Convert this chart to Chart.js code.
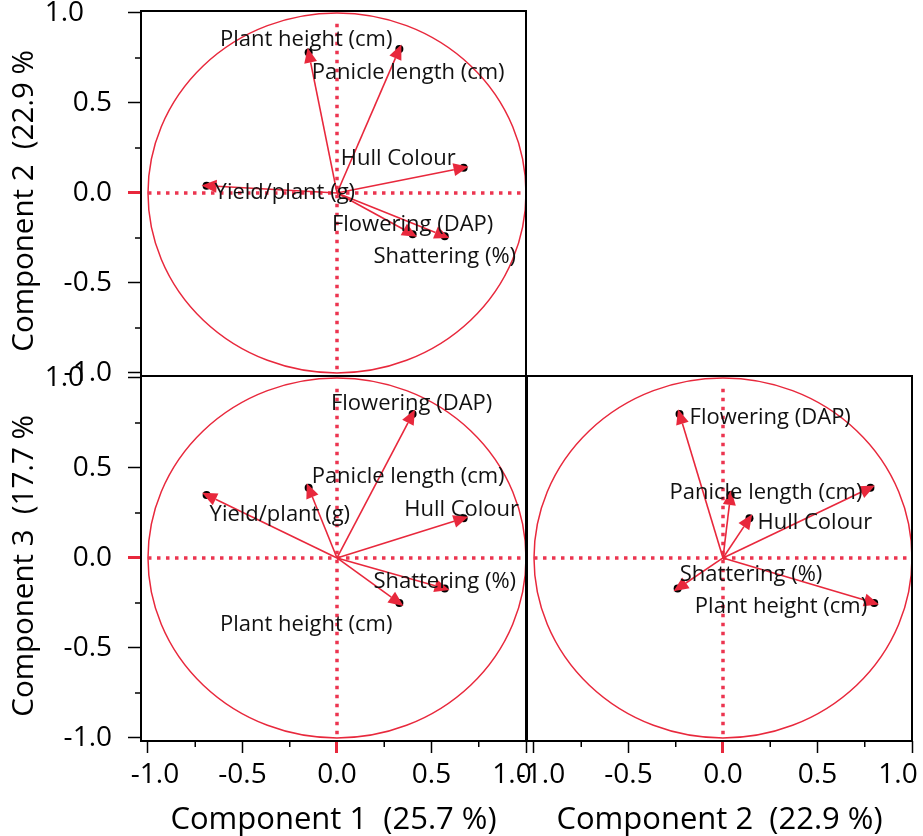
<!DOCTYPE html>
<html>
<head>
<meta charset="utf-8">
<script src="https://cdn.jsdelivr.net/npm/chart.js@4.4.1/dist/chart.umd.min.js"></script>
<style>
  body { margin: 0; background: #fff; }
  #wrap { position: relative; width: 923px; height: 836px; overflow: hidden; }
  canvas { position: absolute; }
</style>
</head>
<body>
<div id="wrap">
  <canvas id="c12"></canvas>
  <canvas id="c13"></canvas>
  <canvas id="c23"></canvas>
</div>
<script>
// Loadings
const variables = ["Plant height (cm)", "Panicle length (cm)", "Hull Colour", "Yield/plant (g)", "Flowering (DAP)", "Shattering (%)"];
const comp1 = [0.33, -0.15, 0.67, -0.69, 0.40, 0.57];
const comp2 = [0.80, 0.78, 0.14, 0.04, -0.23, -0.24];
const comp3 = [-0.25, 0.39, 0.22, 0.35, 0.80, -0.17];

const titleC1 = "Component 1  (25.7 %)";
const titleC2x = "Component 2  (22.9 %)";
const titleC2y = "Component 2  (22.9 %";
const titleC3y = "Component 3  (17.7 %";

const tickValues = [-1, -0.75, -0.5, -0.25, 0, 0.25, 0.5, 0.75, 1];

// label placement: [align, dx, dy] per variable, null = no label
const placeC1C2 = [
  ["right", -7, -9],
  ["left", 3, 20],
  ["right", -8, -9],
  ["left", 8, 7],
  ["center", 0, -10],
  ["center", 0, 21],
];
const placeC1C3 = [
  ["right", -7, 22],
  ["left", 3, -11],
  ["center", -2, -9],
  ["left", 3, 20],
  ["center", -1, -10],
  ["center", 0, -7],
];
const placeC2C3 = [
  ["right", -7, 4],
  ["right", -8, 5],
  ["left", 8, 4],
  null,
  ["left", 10, 4],
  ["left", 2, -14],
];

const RED = "#e8283c";
const DOT_RED = "#ec3550";
const FONT = "'Open Sans'";

const isMajor = (v) => Math.abs(v * 2 - Math.round(v * 2)) < 1e-9;

function tickLabel(v, first, last) {
  if (!isMajor(v)) return "";
  const s = v.toFixed(1);
  if (v === -1 && first) return "\u2002" + s;
  if (v === 1 && last) return s + "\u2003";
  return s;
}

const panelPlugin = {
  id: "panel",
  beforeDatasetsDraw(chart) {
    const { ctx } = chart;
    const x = chart.scales.x;
    const y = chart.scales.y;
    const cx = x.getPixelForValue(0);
    const cy = y.getPixelForValue(0);
    // unit circle
    ctx.save();
    ctx.strokeStyle = RED;
    ctx.lineWidth = 1.5;
    ctx.beginPath();
    ctx.ellipse(cx, cy, x.getPixelForValue(1) - cx, cy - y.getPixelForValue(1), 0, 0, Math.PI * 2);
    ctx.stroke();
    // dotted zero lines
    ctx.strokeStyle = DOT_RED;
    ctx.lineWidth = 3.5;
    ctx.setLineDash([3.5, 5.5]);
    ctx.beginPath();
    ctx.moveTo(x.getPixelForValue(-1), cy);
    ctx.lineTo(x.getPixelForValue(1), cy);
    ctx.moveTo(cx, y.getPixelForValue(0.94));
    ctx.lineTo(cx, y.getPixelForValue(-1));
    ctx.stroke();
    ctx.restore();
  },
  afterDatasetsDraw(chart, args, opts) {
    const { ctx } = chart;
    const cx = chart.scales.x.getPixelForValue(0);
    const cy = chart.scales.y.getPixelForValue(0);
    const pts = chart.getDatasetMeta(0).data;
    ctx.save();
    pts.forEach((p) => {
      const dx = p.x - cx;
      const dy = p.y - cy;
      const len = Math.hypot(dx, dy);
      const ux = dx / len;
      const uy = dy / len;
      const tipX = p.x + ux * 5;
      const tipY = p.y + uy * 5;
      const bx = tipX - ux * 15;
      const by = tipY - uy * 15;
      ctx.strokeStyle = RED;
      ctx.lineWidth = 1.6;
      ctx.beginPath();
      ctx.moveTo(cx, cy);
      ctx.lineTo(bx, by);
      ctx.stroke();
      ctx.fillStyle = RED;
      ctx.beginPath();
      ctx.moveTo(tipX, tipY);
      ctx.lineTo(bx - uy * 6.5, by + ux * 6.5);
      ctx.lineTo(bx + uy * 6.5, by - ux * 6.5);
      ctx.closePath();
      ctx.fill();
    });
    // variable labels
    ctx.fillStyle = "#111";
    ctx.font = "22px " + FONT;
    ctx.textBaseline = "middle";
    pts.forEach((p, i) => {
      const pl = opts.place[i];
      if (!pl) return;
      ctx.textAlign = pl[0];
      ctx.fillText(variables[i], p.x + pl[1], p.y + pl[2]);
    });
    ctx.restore();
  },
  afterDraw(chart) {
    const { ctx, chartArea: a } = chart;
    ctx.save();
    ctx.strokeStyle = "#000";
    ctx.lineWidth = 2;
    ctx.strokeRect(a.left, a.top, a.right - a.left, a.bottom - a.top);
    // minor ticks
    ctx.lineWidth = 1.5;
    ctx.beginPath();
    tickValues.filter((v) => !isMajor(v)).forEach((v) => {
      if (chart.scales.x.options.display) {
        const px = chart.scales.x.getPixelForValue(v);
        ctx.moveTo(px, a.bottom);
        ctx.lineTo(px, a.bottom + 6);
      }
      if (chart.scales.y.options.display) {
        const py = chart.scales.y.getPixelForValue(v);
        ctx.moveTo(a.left, py);
        ctx.lineTo(a.left - 6, py);
      }
    });
    ctx.stroke();
    ctx.restore();
  },
};

function axisOptions(horizontal, show, title, min, max) {
  return {
    type: "linear",
    min,
    max,
    display: show,
    afterBuildTicks: (s) => {
      s.ticks = tickValues.map((v) => ({ value: v }));
    },
    afterFit: (s) => {
      if (!show) return;
      if (horizontal) s.height = 95;
      else s.width = 141;
    },
    border: { display: false },
    grid: {
      drawOnChartArea: false,
      tickLength: horizontal ? 12 : 13,
      tickColor: (c) => (!isMajor(c.tick.value) ? "rgba(0,0,0,0)" : c.tick.value === 0 ? RED : "#000"),
      tickWidth: (c) => (c.tick.value === 0 ? 3 : 1.5),
    },
    ticks: {
      autoSkip: false,
      maxRotation: 0,
      padding: horizontal ? 5 : 16,
      color: "#000",
      font: { family: FONT, size: 28 },
      callback: (v, i, arr) => tickLabel(v, i === 0, i === arr.length - 1),
    },
    title: {
      display: !!title,
      text: title,
      color: "#000",
      font: { family: FONT, size: horizontal ? 31 : 29.5, lineHeight: 1 },
      padding: horizontal ? { top: 0, bottom: 0 } : { top: 10, bottom: 0 },
    },
  };
}

function makePanel(id, box, xs, ys, place, xAxis, yAxis) {
  const canvas = document.getElementById(id);
  canvas.width = box.w;
  canvas.height = box.h;
  canvas.style.left = box.left + "px";
  canvas.style.top = box.top + "px";
  const data = xs.map((v, i) => ({ x: v, y: ys[i] }));
  return new Chart(canvas, {
    type: "scatter",
    data: {
      datasets: [
        {
          data,
          pointRadius: 4,
          pointHoverRadius: 4,
          backgroundColor: "#000",
          borderWidth: 0,
        },
      ],
    },
    options: {
      responsive: false,
      animation: false,
      events: [],
      layout: { padding: box.pad },
      plugins: {
        legend: { display: false },
        tooltip: { enabled: false },
        panel: { place },
      },
      scales: {
        x: axisOptions(true, xAxis.show, xAxis.title, -1.037, 1.0),
        y: axisOptions(false, yAxis.show, yAxis.title, -1.017, 1.011),
      },
    },
    plugins: [panelPlugin],
  });
}

// Component 1 vs 2 (top left)
makePanel(
  "c12",
  { left: 0, top: -30, w: 580, h: 440, pad: { left: 0, top: 41, right: 54, bottom: 34 } },
  comp1, comp2, placeC1C2,
  { show: false, title: "" },
  { show: true, title: titleC2y + "\u2002" }
);

// Component 1 vs 3 (bottom left)
makePanel(
  "c13",
  { left: 0, top: 340, w: 580, h: 496, pad: { left: 0, top: 36, right: 54, bottom: 0 } },
  comp1, comp3, placeC1C3,
  { show: true, title: titleC1 },
  { show: true, title: titleC3y + "\u2002" }
);

// Component 2 vs 3 (bottom right)
makePanel(
  "c23",
  { left: 490, top: 340, w: 480, h: 496, pad: { left: 37, top: 36, right: 58, bottom: 0 } },
  comp2, comp3, placeC2C3,
  { show: true, title: titleC2x },
  { show: false, title: "" }
);
</script>
</body>
</html>
